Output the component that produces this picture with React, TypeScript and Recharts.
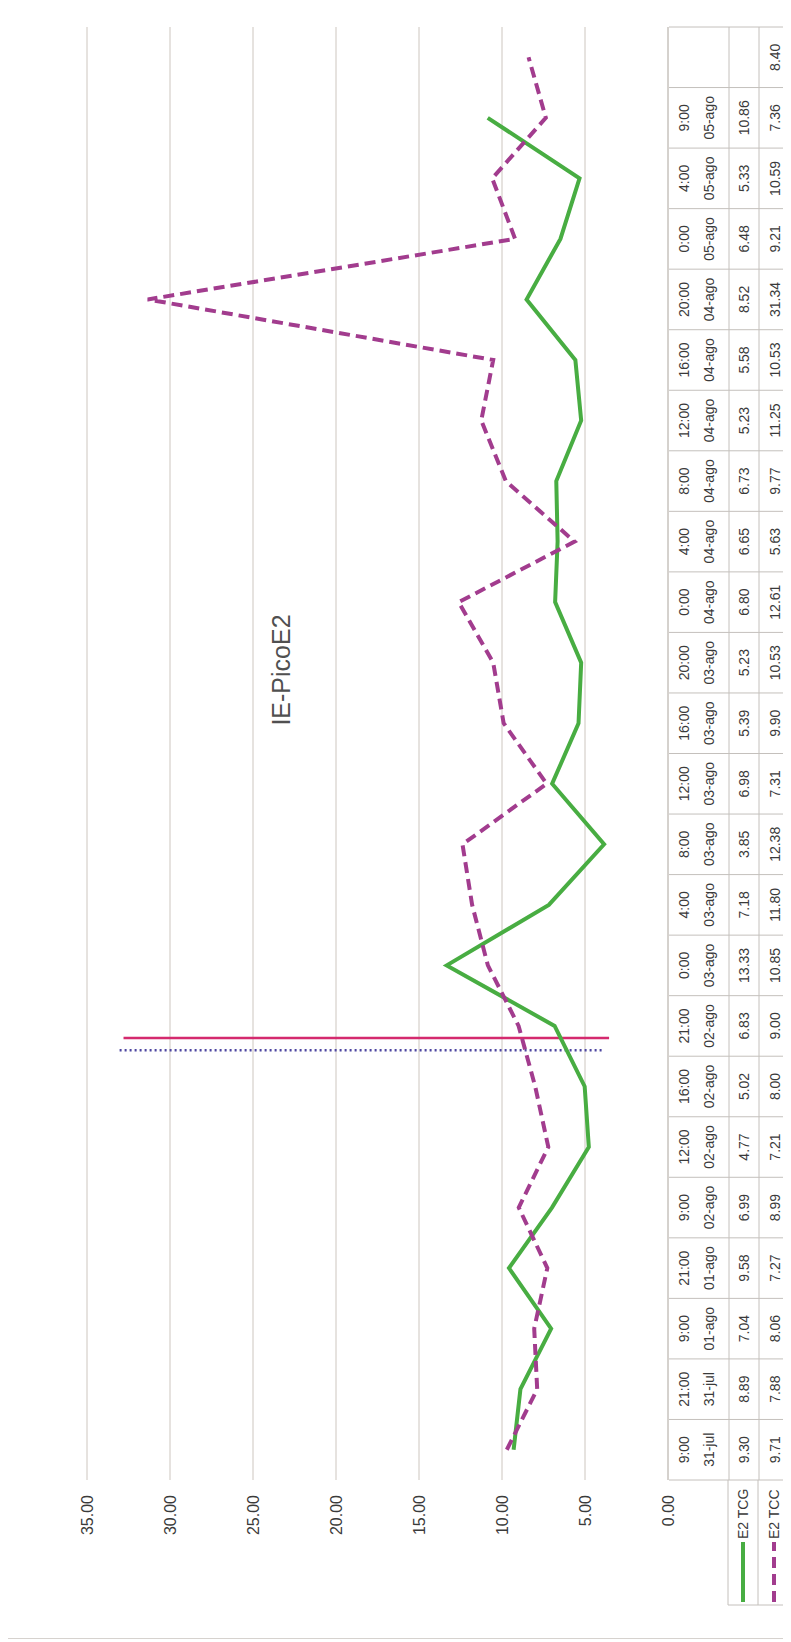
import { LineChart, Line, XAxis, YAxis, CartesianGrid, ReferenceLine } from 'recharts';

// table header rows (time / date) and the two series
const times = ['9:00', '21:00', '9:00', '21:00', '9:00', '12:00', '16:00', '21:00', '0:00', '4:00', '8:00', '12:00', '16:00', '20:00', '0:00', '4:00', '8:00', '12:00', '16:00', '20:00', '0:00', '4:00', '9:00', ''];
const dates = ['31-jul', '31-jul', '01-ago', '01-ago', '02-ago', '02-ago', '02-ago', '02-ago', '03-ago', '03-ago', '03-ago', '03-ago', '03-ago', '03-ago', '04-ago', '04-ago', '04-ago', '04-ago', '04-ago', '04-ago', '05-ago', '05-ago', '05-ago', ''];
const tcg = [9.30, 8.89, 7.04, 9.58, 6.99, 4.77, 5.02, 6.83, 13.33, 7.18, 3.85, 6.98, 5.39, 5.23, 6.80, 6.65, 6.73, 5.23, 5.58, 8.52, 6.48, 5.33, 10.86, null];
const tcc = [9.71, 7.88, 8.06, 7.27, 8.99, 7.21, 8.00, 9.00, 10.85, 11.80, 12.38, 7.31, 9.90, 10.53, 12.61, 5.63, 9.77, 11.25, 10.53, 31.34, 9.21, 10.59, 7.36, 8.40];
const yTicks = [0, 5, 10, 15, 20, 25, 30, 35];

// two hand-drawn vertical marks (position on category axis, low / high value)
const markPos = [6.6, 6.8];
const markLow = [4.0, 3.55];
const markHigh = [33.1, 32.8];

const data = tcg.map((v, i) => ({ idx: i, tcg: v, tcc: tcc[i] }));

// landscape chart, rotated -90deg onto the page
const W = 1636;
const H = 783;
const PLOT_LEFT = 159;
const PLOT_RIGHT = 24;
const PLOT_TOP = 80;
const TABLE_TOP = 661;
const ROW1 = 721;
const ROW2 = 751;
const COL_W = (W - PLOT_LEFT - PLOT_RIGHT) / times.length;

const GREEN = '#48ad42';
const PURPLE = '#a23c8e';
const BORDER = '#c4c0bc';
const TEXT = '#3a3a3a';
const FONT = "'Liberation Sans', Arial, sans-serif";

function TableTick(props: any) {
  const { x, payload } = props;
  const i = payload.value as number;
  const left = x - COL_W / 2;
  const fmt = (v: number | null) => (v == null ? '' : v.toFixed(2));
  return (
    <g fontFamily={FONT} fontSize={14} fill={TEXT}>
      <line x1={left} x2={left} y1={TABLE_TOP} y2={H} stroke={BORDER} />
      {i === times.length - 1 && <line x1={left + COL_W} x2={left + COL_W} y1={TABLE_TOP} y2={H} stroke={BORDER} />}
      <line x1={left} x2={left + COL_W} y1={ROW1} y2={ROW1} stroke={BORDER} />
      <line x1={left} x2={left + COL_W} y1={ROW2} y2={ROW2} stroke={BORDER} />
      <text x={x} y={681} textAnchor="middle">{times[i]}</text>
      <text x={x} y={706} textAnchor="middle">{dates[i]}</text>
      <text x={x} y={741} textAnchor="middle">{fmt(tcg[i])}</text>
      <text x={x} y={772} textAnchor="middle">{fmt(tcc[i])}</text>
    </g>
  );
}

export default function App() {
  return (
    <div style={{ position: 'relative', width: H, height: W, marginLeft: -1, marginTop: -5 }}>
      <div
        style={{
          position: 'absolute',
          left: 0,
          top: 0,
          width: W,
          height: H,
          transformOrigin: '0 0',
          transform: `translateY(${W}px) rotate(-90deg)`,
          background: '#fff',
          boxSizing: 'border-box',
          border: '1px solid #d6d2ce',
        }}
      >
        <LineChart width={W - 2} height={H - 2} data={data} margin={{ top: PLOT_TOP - 1, right: PLOT_RIGHT - 1, bottom: 0, left: 0 }}>
          <CartesianGrid vertical={false} stroke="#cdc6bf" />
          <XAxis
            dataKey="idx"
            type="number"
            domain={[-0.5, times.length - 0.5]}
            ticks={times.map((_, i) => i)}
            interval={0}
            height={H - 1 - TABLE_TOP}
            axisLine={{ stroke: BORDER }}
            tickLine={false}
            tick={<TableTick />}
          />
          <YAxis
            domain={[0, 35]}
            ticks={yTicks}
            width={PLOT_LEFT - 1}
            axisLine={false}
            tickLine={false}
            tickSize={0}
            tickMargin={15}
            tickFormatter={(v: number) => v.toFixed(2)}
            tick={{ fontSize: 16, fill: TEXT, fontFamily: FONT }}
          />
          <ReferenceLine segment={[{ x: markPos[0], y: markLow[0] }, { x: markPos[0], y: markHigh[0] }]} stroke="#4e46a0" strokeWidth={2.5} strokeDasharray="2 3" />
          <ReferenceLine segment={[{ x: markPos[1], y: markLow[1] }, { x: markPos[1], y: markHigh[1] }]} stroke="#d42a6e" strokeWidth={2.5} />
          <Line type="linear" dataKey="tcg" stroke={GREEN} strokeWidth={4} dot={false} isAnimationActive={false} />
          <Line type="linear" dataKey="tcc" stroke={PURPLE} strokeWidth={4} strokeDasharray="11 6" dot={false} isAnimationActive={false} />
        </LineChart>
        <svg width={W} height={H} style={{ position: 'absolute', left: -1, top: -1, pointerEvents: 'none' }}>
          <text x={969} y={283} textAnchor="middle" fontFamily={FONT} fontSize={25} fill="#505050">IE-PicoE2</text>
          <g stroke={BORDER}>
            <line x1={34} x2={PLOT_LEFT} y1={ROW1} y2={ROW1} />
            <line x1={34} x2={PLOT_LEFT} y1={ROW2} y2={ROW2} />
            <line x1={34} x2={34} y1={ROW1} y2={H} />
          </g>
          <line x1={37} x2={97} y1={736} y2={736} stroke={GREEN} strokeWidth={4} />
          <line x1={37} x2={97} y1={767} y2={767} stroke={PURPLE} strokeWidth={4} strokeDasharray="11 6" />
          <g fontFamily={FONT} fontSize={14} fill={TEXT}>
            <text x={100} y={741}>E2 TCG</text>
            <text x={100} y={772}>E2 TCC</text>
          </g>
        </svg>
      </div>
    </div>
  );
}
